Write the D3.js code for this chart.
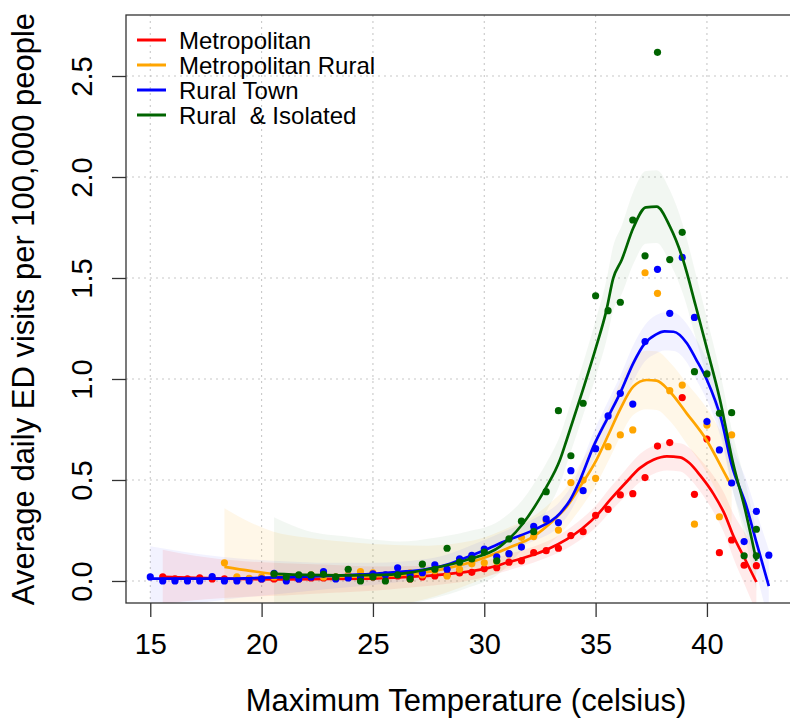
<!DOCTYPE html>
<html>
<head>
<meta charset="utf-8">
<script src="https://cdn.jsdelivr.net/npm/d3@7"></script>
<style>
  body { margin: 0; background: #fff; }
  svg { display: block; font-family: "Liberation Sans", Arial, sans-serif; }
</style>
</head>
<body>
<svg id="chart" width="790" height="719"></svg>
<script>
// temperatures of the observed points (celsius)
const temps = [15.00, 15.56, 16.11, 16.67, 17.22, 17.78, 18.33, 18.89, 19.44, 20.00,
  20.56, 21.11, 21.67, 22.22, 22.78, 23.33, 23.89, 24.44, 25.00, 25.56,
  26.11, 26.67, 27.22, 27.78, 28.33, 28.89, 29.44, 30.00, 30.56, 31.11,
  31.67, 32.22, 32.78, 33.33, 33.89, 34.44, 35.00, 35.56, 36.11, 36.67,
  37.22, 37.78, 38.33, 38.89, 39.44, 40.00, 40.56, 41.11, 41.67, 42.22,
  42.78];

// observed daily ED visits per 100,000, aligned with temps
const metroValues = [null, 0.02, 0.01, 0.01, 0.015, 0.01, 0.01, 0.01, 0.01, 0.01,
  0.01, 0.015, 0.01, 0.015, 0.015, 0.015, 0.02, 0.01, 0.02, 0.02,
  0.025, 0.01, 0.02, 0.025, 0.03, 0.04, 0.043, 0.06, 0.066, 0.093,
  0.1, 0.14, 0.15, 0.162, 0.225, 0.244, 0.325, 0.355, 0.426, 0.432,
  0.512, 0.668, 0.685, 0.908, 0.429, 0.703, 0.14, 0.203, 0.078, 0.076,
  null];
const metroRuralValues = [null, null, null, null, null, null, 0.09, 0.02, 0.013, 0.02,
  0.02, 0.02, 0.02, 0.03, 0.02, 0.02, 0.03, 0.046, 0.04, 0.03,
  0.035, 0.04, 0.03, 0.051, 0.025, 0.058, 0.085, 0.09, 0.096, 0.134,
  0.216, 0.22, 0.298, 0.252, 0.487, 0.5, 0.508, 0.665, 0.723, 0.748,
  1.526, 1.424, 0.942, 0.97, 0.281, 0.772, 0.318, 0.723, null, null,
  null];
const ruralTownValues = [0.02, 0.0, 0.0, 0.0, 0.0, 0.022, 0.0, 0.0, 0.0, 0.01,
  0.038, 0.0, 0.01, 0.02, 0.046, 0.01, 0.015, 0.02, 0.035, 0.03,
  0.065, 0.03, 0.041, 0.08, 0.058, 0.11, 0.127, 0.158, 0.12, 0.135,
  0.168, 0.27, 0.307, 0.289, 0.546, 0.447, 0.655, 0.817, 0.929, 0.876,
  1.185, 1.543, 1.325, 1.602, 1.305, 0.789, 0.649, 0.485, 0.195, 0.345,
  0.128];
const isolatedValues = [null, null, null, null, null, null, null, null, null, null,
  0.035, 0.02, 0.03, 0.03, 0.033, 0.02, 0.058, 0.0, 0.02, 0.0,
  0.03, 0.01, 0.083, 0.058, 0.162, 0.093, 0.109, 0.143, 0.1, 0.208,
  0.296, 0.244, 0.442, 0.843, 0.62, 0.88, 1.412, 1.338, 1.38, 1.787,
  1.61, 2.617, 1.591, 1.726, 1.036, 1.025, 0.83, 0.833, 0.125, 0.256,
  null];
const isolatedExtraTemps = [42.22];
const isolatedExtraValues = [0.125];

// smoothed fits and half width of their confidence bands
const metroFitTemps = [15.56, 17.0, 19.0, 21.0, 23.0, 25.0, 26.2, 27.7, 29.2, 30.2, 31.0, 32.2, 32.8, 33.7, 34.4,
  35.1, 35.64, 36.3, 37.0, 37.6, 38.2, 38.8, 39.2, 39.68, 40.3, 40.8, 41.2, 41.7, 42.22];
const metroFit = [0.02, 0.015, 0.01, 0.008, 0.01, 0.012, 0.018, 0.028, 0.045, 0.065, 0.09, 0.13, 0.155, 0.206, 0.26,
  0.33, 0.40, 0.48, 0.56, 0.60, 0.617, 0.612, 0.585, 0.525, 0.43, 0.33, 0.22, 0.11, -0.005];
const metroBand = [0.135, 0.11, 0.09, 0.08, 0.07, 0.06, 0.055, 0.05, 0.045, 0.04, 0.04, 0.04, 0.04, 0.045, 0.05,
  0.055, 0.06, 0.065, 0.07, 0.07, 0.07, 0.07, 0.075, 0.08, 0.09, 0.1, 0.11, 0.13, 0.15];

const metroRuralFitTemps = [18.33, 19.5, 20.5, 22.0, 24.0, 26.0, 27.5, 29.0, 30.0, 31.0, 32.2, 33.0, 33.7,
  34.2, 35.04, 35.6, 36.09, 36.69, 37.29, 37.74, 38.34, 39.09, 39.98, 40.88, 41.11];
const metroRuralFit = [0.07, 0.05, 0.035, 0.025, 0.022, 0.028, 0.045, 0.08, 0.115, 0.16, 0.22, 0.29, 0.368,
  0.45, 0.6, 0.73, 0.847, 0.962, 0.995, 0.992, 0.937, 0.83, 0.698, 0.516, 0.47];
const metroRuralBand = [0.29, 0.24, 0.21, 0.19, 0.17, 0.15, 0.13, 0.11, 0.1, 0.1, 0.1, 0.1, 0.1,
  0.11, 0.12, 0.13, 0.135, 0.14, 0.145, 0.145, 0.145, 0.15, 0.16, 0.18, 0.19];

const ruralTownFitTemps = [15.0, 18.0, 21.0, 23.0, 25.0, 26.2, 27.3, 28.3, 28.9, 29.95, 31.0, 32.2, 33.4, 33.85, 34.3,
  34.9, 35.6, 36.1, 36.7, 37.2, 37.7, 38.1, 38.5, 39.1, 39.5, 40.0, 40.65, 41.1, 41.8, 42.2, 42.78];
const ruralTownFit = [0.012, 0.012, 0.018, 0.025, 0.035, 0.045, 0.057, 0.08, 0.104, 0.15, 0.2, 0.252, 0.335, 0.40, 0.5,
  0.665, 0.82, 0.93, 1.08, 1.175, 1.22, 1.236, 1.234, 1.177, 1.1, 0.995, 0.797, 0.58, 0.36, 0.2, -0.025];
const ruralTownBand = [0.16, 0.11, 0.08, 0.065, 0.055, 0.05, 0.05, 0.05, 0.05, 0.05, 0.05, 0.055, 0.06, 0.06, 0.065,
  0.07, 0.08, 0.085, 0.09, 0.09, 0.095, 0.095, 0.095, 0.095, 0.1, 0.1, 0.1, 0.11, 0.13, 0.15, 0.18];

const isolatedFitTemps = [20.56, 22.0, 24.0, 25.5, 26.2, 27.7, 29.2, 30.7, 31.75, 32.5, 32.8, 33.4, 33.7, 34.44, 35.0,
  35.49, 35.79, 36.17, 36.7, 37.26, 37.74, 38.34, 38.93, 39.5, 40.0, 40.58, 41.18, 41.7, 42.22];
const isolatedFit = [0.035, 0.03, 0.028, 0.03, 0.035, 0.063, 0.104, 0.17, 0.286, 0.41, 0.467, 0.6, 0.698, 0.95, 1.15,
  1.342, 1.498, 1.589, 1.75, 1.85, 1.853, 1.754, 1.589, 1.36, 1.15, 0.90, 0.58, 0.36, 0.10];
const isolatedBand = [0.28, 0.22, 0.19, 0.17, 0.16, 0.15, 0.14, 0.13, 0.12, 0.12, 0.12, 0.12, 0.12, 0.13, 0.14,
  0.15, 0.16, 0.17, 0.18, 0.18, 0.18, 0.18, 0.17, 0.16, 0.15, 0.14, 0.14, 0.14, 0.15];

const seriesNames = ["Metropolitan", "Metropolitan Rural", "Rural Town", "Rural  & Isolated"];
const seriesColors = ["#ff0000", "#ffa500", "#0000ff", "#006400"];
const bandOpacity = [0.08, 0.09, 0.05, 0.05];
const xTicks = [15, 20, 25, 30, 35, 40];
const yTicks = [0.0, 0.5, 1.0, 1.5, 2.0, 2.5];

const series = [
  { values: metroValues, fitTemps: metroFitTemps, fit: metroFit, band: metroBand },
  { values: metroRuralValues, fitTemps: metroRuralFitTemps, fit: metroRuralFit, band: metroRuralBand },
  { values: ruralTownValues, fitTemps: ruralTownFitTemps, fit: ruralTownFit, band: ruralTownBand },
  { values: isolatedValues, fitTemps: isolatedFitTemps, fit: isolatedFit, band: isolatedBand }
];

const svg = d3.select("#chart");
const plotLeft = 126, plotRight = 794, plotTop = 15, plotBottom = 603;

const x = d3.scaleLinear().domain([13.91, 43.91]).range([plotLeft, plotRight]);
const y = d3.scaleLinear().domain([-0.109, 2.802]).range([plotBottom, plotTop]);

svg.append("rect").attr("width", 790).attr("height", 719).attr("fill", "#fff");

svg.append("defs").append("clipPath").attr("id", "plotclip")
  .append("rect")
  .attr("x", plotLeft).attr("y", plotTop)
  .attr("width", plotRight - plotLeft).attr("height", plotBottom - plotTop);

// dotted grid
let grid = svg.append("g").attr("stroke", "#c8c8c8").attr("stroke-width", 1.1).attr("stroke-dasharray", "2,4");
grid.selectAll(".gx").data(xTicks).enter().append("line")
  .attr("x1", d => x(d)).attr("x2", d => x(d))
  .attr("y1", plotTop).attr("y2", plotBottom);
grid.selectAll(".gy").data(yTicks).enter().append("line")
  .attr("x1", plotLeft).attr("x2", plotRight)
  .attr("y1", d => y(d)).attr("y2", d => y(d));

let plot = svg.append("g").attr("clip-path", "url(#plotclip)");

// confidence bands first
series.forEach((s, i) => {
  let rows = s.fitTemps.map((t, k) => ({ t: t, v: s.fit[k], h: s.band[k] }));
  let area = d3.area()
    .x(d => x(d.t))
    .y0(d => y(d.v - d.h))
    .y1(d => y(d.v + d.h))
    .curve(d3.curveMonotoneX);
  plot.append("path")
    .datum(rows)
    .attr("d", area)
    .attr("fill", seriesColors[i])
    .attr("fill-opacity", bandOpacity[i]);
});

// points and fitted lines
series.forEach((s, i) => {
  let pts = temps.map((t, k) => ({ t: t, v: s.values[k] })).filter(d => d.v !== null);
  if (i === 3) {
    isolatedExtraTemps.forEach((t, k) => pts.push({ t: t, v: isolatedExtraValues[k] }));
  }
  plot.append("g").selectAll("circle").data(pts).enter().append("circle")
    .attr("cx", d => x(d.t))
    .attr("cy", d => y(d.v))
    .attr("r", 3.6)
    .attr("fill", seriesColors[i]);

  let rows = s.fitTemps.map((t, k) => ({ t: t, v: s.fit[k] }));
  let line = d3.line().x(d => x(d.t)).y(d => y(d.v)).curve(d3.curveMonotoneX);
  plot.append("path")
    .datum(rows)
    .attr("d", line)
    .attr("fill", "none")
    .attr("stroke", seriesColors[i])
    .attr("stroke-width", 2.7);
});

// box
svg.append("rect")
  .attr("x", plotLeft).attr("y", plotTop)
  .attr("width", plotRight - plotLeft).attr("height", plotBottom - plotTop)
  .attr("fill", "none").attr("stroke", "#333").attr("stroke-width", 1.3);

// x axis
let xAxis = svg.append("g").attr("transform", "translate(0," + plotBottom + ")")
  .call(d3.axisBottom(x).tickValues(xTicks).tickSize(14).tickPadding(16).tickFormat(d3.format("d")));
xAxis.select(".domain").remove();
xAxis.selectAll("line").attr("stroke", "#333").attr("stroke-width", 1.3);
xAxis.selectAll("text").attr("font-size", "29px").attr("fill", "#000").attr("font-family", "Liberation Sans, Arial, sans-serif");

// y axis, labels parallel to the axis
let yAxis = svg.append("g").attr("transform", "translate(" + plotLeft + ",0)")
  .call(d3.axisLeft(y).tickValues(yTicks).tickSize(14).tickFormat(d3.format(".1f")));
yAxis.select(".domain").remove();
yAxis.selectAll("line").attr("stroke", "#333").attr("stroke-width", 1.3);
yAxis.selectAll("text")
  .attr("x", null).attr("dy", null)
  .attr("transform", "translate(-34,0) rotate(-90)")
  .attr("text-anchor", "middle")
  .attr("font-size", "29px").attr("fill", "#000")
  .attr("font-family", "Liberation Sans, Arial, sans-serif");

// axis titles
svg.append("text")
  .attr("x", 466).attr("y", 711)
  .attr("text-anchor", "middle")
  .attr("font-size", "31px")
  .text("Maximum Temperature (celsius)");

svg.append("text")
  .attr("transform", "translate(34,309) rotate(-90)")
  .attr("text-anchor", "middle")
  .attr("font-size", "31px")
  .text("Average daily ED visits per 100,000 people");

// legend
let legend = svg.append("g").selectAll("g").data(seriesNames).enter().append("g")
  .attr("transform", (d, i) => "translate(0," + (40 + i * 25) + ")");
legend.append("line")
  .attr("x1", 137).attr("x2", 166)
  .attr("stroke", (d, i) => seriesColors[i])
  .attr("stroke-width", 3);
legend.append("text")
  .attr("x", 179).attr("y", 8.5)
  .attr("font-size", "24px")
  .style("white-space", "pre")
  .text(d => d);
</script>
</body>
</html>
